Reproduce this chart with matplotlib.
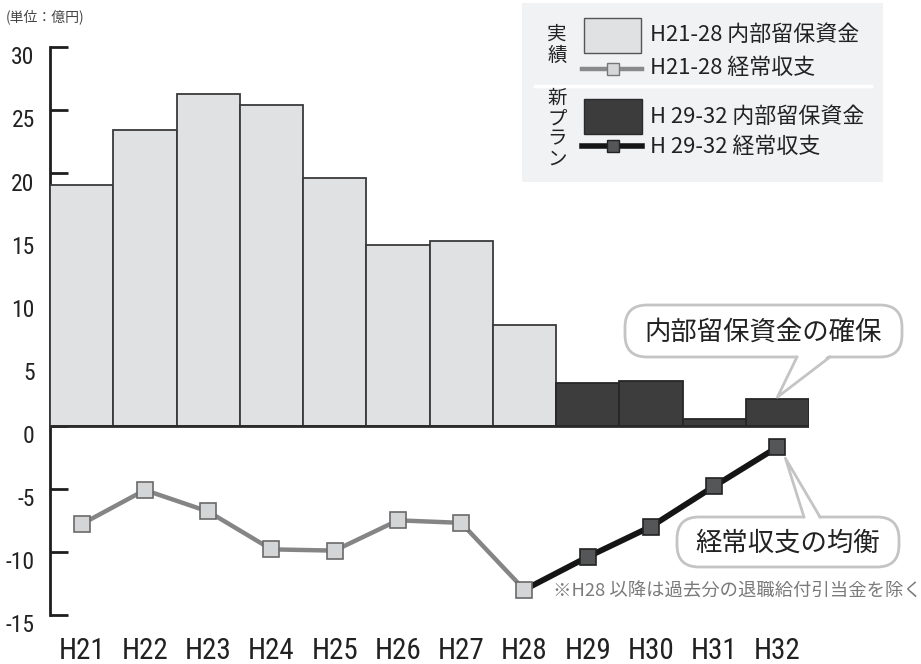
import matplotlib
matplotlib.use("Agg")
import matplotlib.pyplot as plt
from matplotlib.patches import Rectangle, FancyBboxPatch, Polygon
from matplotlib.lines import Line2D
from matplotlib.transforms import ScaledTranslation
from matplotlib import font_manager as fm
import numpy as np

# ---------------- data ----------------
years = ["H21", "H22", "H23", "H24", "H25", "H26", "H27", "H28", "H29", "H30", "H31", "H32"]
reserve_actual = [19.1, 23.4, 26.3, 25.4, 19.6, 14.3, 14.6, 8.0]      # H21-28 内部留保資金
reserve_plan = [3.4, 3.5, 0.5, 2.1]                                    # H29-32 内部留保資金
balance_actual = [-7.8, -5.1, -6.8, -9.8, -9.9, -7.5, -7.7, -13.0]     # H21-28 経常収支
balance_plan = [-10.4, -8.0, -4.8, -1.7]                                # H29-32 経常収支
yticks = [-15, -10, -5, 0, 5, 10, 15, 20, 25, 30]

JP = ["Noto Sans CJK JP", "DejaVu Sans"]
names = {f.name for f in fm.fontManager.ttflist}
NUM = [n for n in ["Roboto Condensed", "Liberation Sans Narrow", "DejaVu Sans"] if n in names] or ["DejaVu Sans"]

W, H = 921, 664
fig = plt.figure(figsize=(W / 100, H / 100), dpi=100)
fig.patch.set_facecolor("white")

ax = fig.add_axes([50 / W, 1 - 615 / H, (809 - 50) / W, (615 - 47) / H])
ax.set_xlim(-0.5, len(years) - 0.5)
ax.set_ylim(-15, 30)
ax.set_facecolor("none")

n_act = len(reserve_actual)
x_act = np.arange(n_act)
x_plan = np.arange(n_act, n_act + len(reserve_plan))

ax.bar(x_act, reserve_actual, width=1.0, color="#e0e1e3", edgecolor="#3a3a3a",
       linewidth=1.3, zorder=3)
ax.bar(x_plan, reserve_plan, width=1.0, color="#3d3d3d", edgecolor="#262626",
       linewidth=1.3, zorder=3)
ax.plot([-0.5, len(years) - 0.5], [0, 0], color="#2a2a2a", lw=2.0, zorder=4,
        solid_capstyle="butt")

# lines
ax.plot(x_act, balance_actual, color="#858585", lw=3.2, zorder=5)
ax.plot(np.concatenate([[x_act[-1]], x_plan]), [balance_actual[-1]] + balance_plan,
        color="#151515", lw=4.2, zorder=5)
ax.plot(x_act, balance_actual, ls="none", marker="s", ms=11, mfc="#d4d5d7",
        mec="#6a6a6a", mew=1.2, zorder=6)
ax.plot(x_plan, balance_plan, ls="none", marker="s", ms=11, mfc="#555657",
        mec="#222222", mew=1.2, zorder=6)

# axes styling
for s in ["top", "right", "bottom"]:
    ax.spines[s].set_visible(False)
ax.spines["left"].set_linewidth(2.0)
ax.spines["left"].set_color("#1e1e1e")
ax.set_yticks(yticks)
ax.set_yticklabels([str(v) for v in yticks], fontfamily=NUM, fontstretch="condensed",
                   fontsize=17, color="#222222")
ax.tick_params(axis="y", direction="in", length=13, width=2.0, color="#1e1e1e",
               pad=11)
for lab in ax.get_yticklabels():
    lab.set_transform(lab.get_transform() + ScaledTranslation(0, -6 / 72, fig.dpi_scale_trans))
ax.set_xticks(np.arange(len(years)))
ax.set_xticklabels(years, fontfamily=NUM, fontstretch="condensed", fontsize=21,
                   color="#222222")
ax.tick_params(axis="x", length=0, pad=16)

# ---------------- overlay in pixel coordinates ----------------
ov = fig.add_axes([0, 0, 1, 1], zorder=10)
ov.set_xlim(0, W)
ov.set_ylim(H, 0)
ov.axis("off")
ov.patch.set_alpha(0)


def to_px(x, y):
    dx, dy = ax.transData.transform((x, y))
    return ov.transData.inverted().transform((dx, dy))


ov.text(6, 17, "(単位：億円)", fontfamily=JP, fontsize=10, color="#444444",
        ha="left", va="center")

# legend box
ov.add_patch(Rectangle((522, 3), 361, 179, facecolor="#f1f2f4", edgecolor="none"))
ov.add_line(Line2D([535, 871], [86, 86], color="white", lw=2.5))
ov.text(557, 45, "実\n績", fontfamily=JP, fontsize=14, ha="center", va="center",
        linespacing=1.05, color="#222222")
ov.text(557, 129, "新\nプ\nラ\nン", fontfamily=JP, fontsize=14, ha="center",
        va="center", linespacing=0.95, color="#222222")
ov.add_patch(Rectangle((584, 18), 57, 35, facecolor="#e0e1e3", edgecolor="#555555",
                       lw=1.0))
ov.add_line(Line2D([582, 642], [69, 69], color="#8a8a8a", lw=3.2))
ov.add_line(Line2D([613], [69], ls="none", marker="s", ms=8, mfc="#d6d7d9",
                   mec="#777777", mew=1.0))
ov.add_patch(Rectangle((584, 99), 58, 35, facecolor="#3c3c3c", edgecolor="#2a2a2a",
                       lw=1.0))
ov.add_line(Line2D([582, 642], [146, 146], color="#151515", lw=4.0))
ov.add_line(Line2D([613], [146], ls="none", marker="s", ms=8, mfc="#555657",
                   mec="#222222", mew=1.0))
leg_texts = [("H21-28 内部留保資金", 35), ("H21-28 経常収支", 68),
             ("H 29-32 内部留保資金", 117), ("H 29-32 経常収支", 147)]
for t, yy in leg_texts:
    ov.text(650, yy, t, fontfamily=JP, fontsize=15.8, ha="left", va="center",
            color="#222222")


# callouts
def callout(x0, y0, w, h, base, tip, text):
    ov.add_patch(FancyBboxPatch((x0, y0), w, h,
                                boxstyle="round,pad=0,rounding_size=22",
                                facecolor="white", edgecolor="#c4c4c4", lw=2.0,
                                zorder=2))
    (bx1, by), (bx2, _) = base
    inner = by - 3 if by > y0 + h / 2 else by + 3
    ov.add_patch(Polygon([(bx1, inner), tip, (bx2, inner)], closed=True,
                         facecolor="white", edgecolor="none", zorder=3))
    ov.add_line(Line2D([bx1, tip[0], bx2], [by, tip[1], by], color="#c4c4c4",
                       lw=2.0, zorder=4))
    ov.text(x0 + w / 2, y0 + h / 2 + 1, text, fontfamily=JP, fontsize=19,
            ha="center", va="center", color="#222222", zorder=5)


tx, ty = to_px(x_plan[-1], reserve_plan[-1])
callout(625, 305, 277, 52, [(797, 357), (830, 357)], (tx, ty - 2), "内部留保資金の確保")
mx, my = to_px(x_plan[-1], balance_plan[-1])
callout(677, 517, 222, 50, [(804, 517), (820, 517)], (mx + 8, my + 11), "経常収支の均衡")

ov.text(553, 592, "※H28 以降は過去分の退職給付引当金を除く", fontfamily=JP,
        fontsize=13.2, ha="left", va="center", color="#7a7a7a")

fig.savefig("out.png", dpi=100)
